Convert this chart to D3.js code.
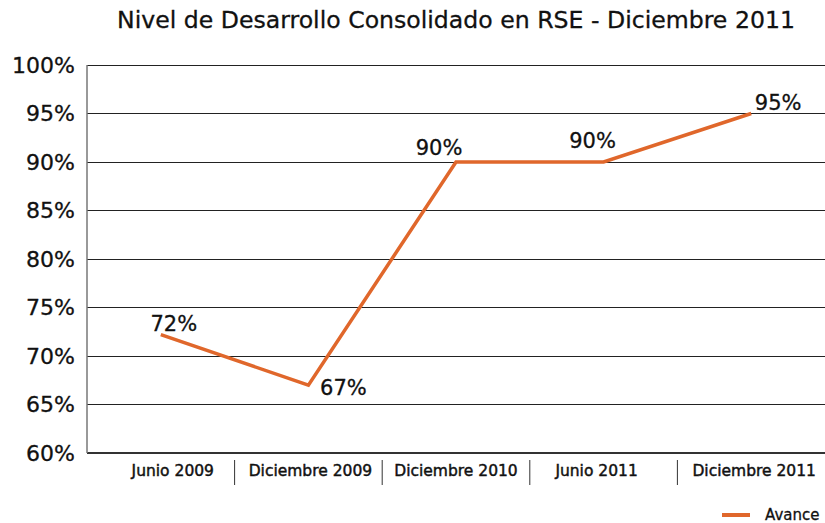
<!DOCTYPE html>
<html>
<head>
<meta charset="utf-8">
<style>
body { margin: 0; background: #fff; }
text { font-family: "DejaVu Sans", sans-serif; fill: #111; stroke: #111; stroke-width: 0.3px; }
</style>
</head>
<body>
<div id="chart"></div>
<script src="https://d3js.org/d3.v7.min.js"></script>
<script>
// chart data
var categories = ["Junio 2009", "Diciembre 2009", "Diciembre 2010", "Junio 2011", "Diciembre 2011"];
var avance = [72.2, 67, 90, 90, 95];
var yTicks = [60, 65, 70, 75, 80, 85, 90, 95, 100];
var pointLabels = ["72%", "67%", "90%", "90%", "95%"];
// label nudges (dx, dy) from each point
var labelDx = [13, 35, -17, -11, 27];
var labelDy = [-4, 10, -7, -14, -4];
// category label nudges, like the original layout
var catDx = [12, 2, 0, -7, 3];

var W = 825, H = 523;
var margin = {top: 65, right: 0, bottom: 70, left: 87};
var width = W - margin.left - margin.right,
    height = H - margin.top - margin.bottom;

var svg = d3.select("#chart").append("svg")
  .attr("width", W).attr("height", H);

// title
svg.append("text")
  .attr("x", 456).attr("y", 28)
  .attr("text-anchor", "middle")
  .style("font-size", "23.6px")
  .text("Nivel de Desarrollo Consolidado en RSE - Diciembre 2011");

var g = svg.append("g").attr("transform", "translate(" + margin.left + "," + margin.top + ")");

var x = d3.scaleBand().domain(categories).range([0, width]);
var y = d3.scaleLinear().domain([60, 100]).range([height, 0]);

// gridlines
g.selectAll(".grid").data(yTicks).enter().append("line")
  .attr("x1", 0).attr("x2", width)
  .attr("y1", function(d) { return y(d); })
  .attr("y2", function(d) { return y(d); })
  .attr("stroke", function(d) { return d == 60 ? "#333" : "#222"; })
  .attr("stroke-width", function(d) { return d == 60 ? 1.5 : 1; })
  .attr("shape-rendering", "crispEdges");

// left axis line
g.append("line").attr("x1", 0).attr("x2", 0).attr("y1", 0).attr("y2", height)
  .attr("stroke", "#777").attr("stroke-width", 1.5);

// y labels
g.selectAll(".ylab").data(yTicks).enter().append("text")
  .attr("x", -12)
  .attr("y", function(d) { return y(d); })
  .attr("dy", "0.36em")
  .attr("text-anchor", "end")
  .style("font-size", "22px")
  .text(function(d) { return d + "%"; });

// category labels and separators
g.selectAll(".xlab").data(categories).enter().append("text")
  .attr("x", function(d, i) { return x(d) + x.bandwidth() / 2 + catDx[i]; })
  .attr("y", height + 23)
  .attr("text-anchor", "middle")
  .style("font-size", "15.5px")
  .style("stroke-width", "0.45px")
  .text(function(d) { return d; });

g.selectAll(".sep").data(categories.slice(1)).enter().append("line")
  .attr("x1", function(d) { return x(d); })
  .attr("x2", function(d) { return x(d); })
  .attr("y1", height + 7).attr("y2", height + 32)
  .attr("stroke", "#333").attr("stroke-width", 1);

// line
var line = d3.line()
  .x(function(d, i) { return x(categories[i]) + x.bandwidth() / 2; })
  .y(function(d) { return y(d); });

g.append("path").datum(avance)
  .attr("d", line)
  .attr("fill", "none")
  .attr("stroke", "#e0672b")
  .attr("stroke-width", 3.5);

// point labels
g.selectAll(".plab").data(avance).enter().append("text")
  .attr("x", function(d, i) { return x(categories[i]) + x.bandwidth() / 2 + labelDx[i]; })
  .attr("y", function(d, i) { return y(d) + labelDy[i]; })
  .attr("text-anchor", "middle")
  .style("font-size", "21px")
  .text(function(d, i) { return pointLabels[i]; });

// legend
svg.append("line").attr("x1", 722).attr("x2", 750).attr("y1", 515).attr("y2", 515)
  .attr("stroke", "#e0672b").attr("stroke-width", 4);
svg.append("text").attr("x", 765).attr("y", 520)
  .style("font-size", "15px").text("Avance");
</script>
</body>
</html>
